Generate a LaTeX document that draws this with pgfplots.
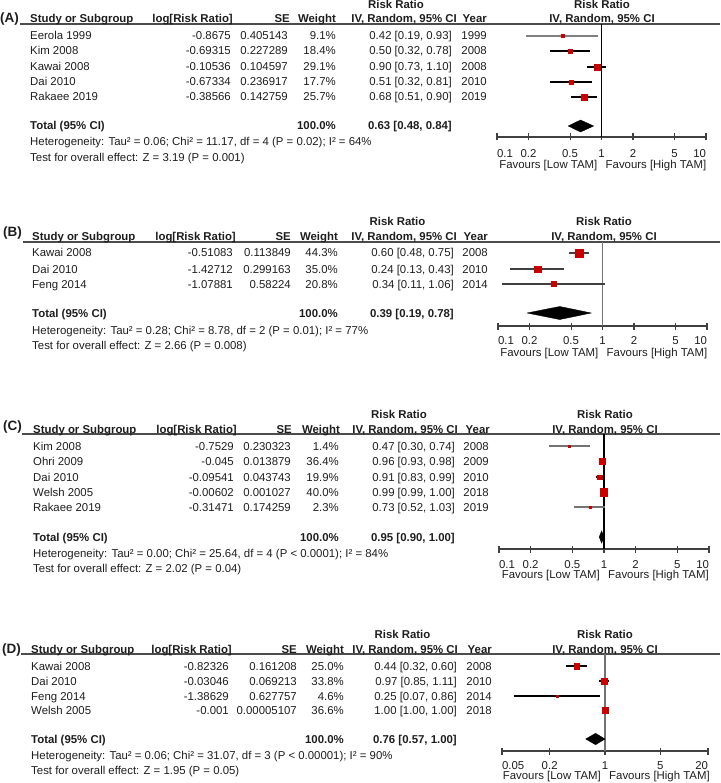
\documentclass[border=0pt]{standalone}
\usepackage{fontspec}
\setmainfont{Liberation Sans}
\usepackage{pgfplots}
\pgfplotsset{compat=1.18}
\definecolor{sqred}{RGB}{200,0,0}
\definecolor{txtc}{RGB}{30,30,30}
\newcommand\fs{\fontsize{11.4}{13}\selectfont}
\newcommand\fl{\fontsize{13.5}{15}\selectfont\bfseries}

% column x positions of the table: name, log RR, SE, weight, CI, year
\newcommand\cols[6]{\def\xN{#1}\def\xL{#2}\def\xS{#3}\def\xW{#4}\def\xC{#5}\def\xY{#6}}
% one study row, #1 = centre of the row below the header line
\newcommand\trow[7]{%
  \node[txt,anchor=base west] at (\xN,-#1-4) {#2};
  \node[txt,anchor=base east] at (\xL,-#1-4) {#3};
  \node[txt,anchor=base east] at (\xS,-#1-4) {#4};
  \node[txt,anchor=base east] at (\xW,-#1-4) {#5};
  \node[txt,anchor=base east] at (\xC,-#1-4) {#6};
  \node[txt,anchor=base east] at (\xY,-#1-4) {#7};}

\pgfplotsset{
  fstyle/.style={
    scale only axis, clip=false,
    axis x line*=bottom, axis y line=none,
    x axis line style={-, black!75, line width=1.1pt},
    xminorticks=false,
    tick align=center, major tick length=7pt,
    tick style={black!75, line width=1.1pt},
    tick label style={font=\fs, text=txtc},
    xticklabel style={anchor=base, inner sep=0pt, yshift=-17pt},
  },
  ci/.style={line width=1.3pt, mark=square*, mark indices={2},
    mark options={solid, draw=sqred, fill=sqred, line width=0.2pt}},
}

\begin{document}
\begin{tikzpicture}[font=\fs,
  txt/.style={inner sep=0pt, text=txtc},
  hd/.style={txt, font=\fs\bfseries}]
\useasboundingbox (0pt,0pt) rectangle (720pt,-783pt);

% ---------------- (A) ----------------
\begin{scope}[x=1pt, y=1pt, shift={(0,-24)}]
\node[hd,font=\fl,anchor=base west] at (0,1.7) {(A)};
\draw[black!70, line width=1.3pt] (20,0) -- (720,0);
\node[hd,anchor=base west] at (30,1) {Study or Subgroup};
\node[hd,anchor=base east] at (233,1) {log[Risk Ratio]};
\node[hd,anchor=base east] at (290,1) {SE};
\node[hd,anchor=base east] at (336,1) {Weight};
\node[hd,anchor=base] at (396,15.5) {Risk Ratio};
\node[hd,anchor=base east] at (457,1) {IV, Random, 95\% CI};
\node[hd,anchor=base east] at (487,1) {Year};
\node[hd,anchor=base] at (602,15.5) {Risk Ratio};
\node[hd,anchor=base] at (602,1) {IV, Random, 95\% CI};
\cols{30}{231}{288}{336}{452}{487}
\trow{12}{Eerola 1999}{-0.8675}{0.405143}{9.1\%}{0.42 [0.19, 0.93]}{1999}
\trow{27}{Kim 2008}{-0.69315}{0.227289}{18.4\%}{0.50 [0.32, 0.78]}{2008}
\trow{43}{Kawai 2008}{-0.10536}{0.104597}{29.1\%}{0.90 [0.73, 1.10]}{2008}
\trow{58}{Dai 2010}{-0.67334}{0.236917}{17.7\%}{0.51 [0.32, 0.81]}{2010}
\trow{73}{Rakaee 2019}{-0.38566}{0.142759}{25.7\%}{0.68 [0.51, 0.90]}{2019}
\node[hd,anchor=base west] at (\xN,-106) {Total (95\% CI)};
\node[hd,anchor=base east] at (\xW,-106) {100.0\%};
\node[hd,anchor=base east] at (\xC,-106) {0.63 [0.48, 0.84]};
\node[txt,anchor=base west] at (\xN,-122) {Heterogeneity: Tau² = 0.06; Chi² = 11.17, df = 4 (P = 0.02); I² = 64\%};
\node[txt,anchor=base west] at (\xN,-138) {Test for overall effect: Z = 3.19 (P = 0.001)};
\end{scope}
\begin{axis}[xmode=log, fstyle, at={(497pt,-24pt)}, anchor=north west,
  width=209pt, height=113pt, xmin=0.1, xmax=10, ymin=-113, ymax=0,
  xtick={0.1,0.2,0.5,1,2,5,10},
  xticklabels={\rlap{0.1},0.2,0.5,1,2,5,\llap{10}}]
\addplot[black, line width=1.1pt] coordinates {(1,0) (1,-113)};
\addplot[ci, black!50, mark size=1.5] coordinates {(0.19,-12) (0.42,-12) (0.93,-12)};
\addplot[ci, black, mark size=2.35] coordinates {(0.32,-27) (0.50,-27) (0.78,-27)};
\addplot[ci, black, mark size=3] coordinates {(0.73,-43) (0.90,-43) (1.10,-43)};
\addplot[ci, black, mark size=2.35] coordinates {(0.32,-58) (0.51,-58) (0.81,-58)};
\addplot[ci, black, mark size=2.85] coordinates {(0.51,-73) (0.68,-73) (0.90,-73)};
\addplot[fill=black, draw=black] coordinates {(0.48,-102) (0.63,-96) (0.84,-102) (0.63,-108) (0.48,-102)};
\node[txt,anchor=base east,xshift=-4pt] at (axis cs:1,-145) {Favours [Low TAM]};
\node[txt,anchor=base west,xshift=4pt] at (axis cs:1,-145) {Favours [High TAM]};
\end{axis}

% ---------------- (B) ----------------
\begin{scope}[x=1pt, y=1pt, shift={(0,-242)}]
\node[hd,font=\fl,anchor=base west] at (3,5) {(B)};
\draw[black!70, line width=1.3pt] (23,0) -- (720,0);
\node[hd,anchor=base west] at (32,1) {Study or Subgroup};
\node[hd,anchor=base east] at (236,1) {log[Risk Ratio]};
\node[hd,anchor=base east] at (291,1) {SE};
\node[hd,anchor=base east] at (338,1) {Weight};
\node[hd,anchor=base] at (397.5,16) {Risk Ratio};
\node[hd,anchor=base east] at (457,1) {IV, Random, 95\% CI};
\node[hd,anchor=base east] at (488,1) {Year};
\node[hd,anchor=base] at (604,16) {Risk Ratio};
\node[hd,anchor=base] at (604,1) {IV, Random, 95\% CI};
\cols{32}{233}{291}{338}{454}{488}
\trow{11}{Kawai 2008}{-0.51083}{0.113849}{44.3\%}{0.60 [0.48, 0.75]}{2008}
\trow{27}{Dai 2010}{-1.42712}{0.299163}{35.0\%}{0.24 [0.13, 0.43]}{2010}
\trow{42}{Feng 2014}{-1.07881}{0.58224}{20.8\%}{0.34 [0.11, 1.06]}{2014}
\node[hd,anchor=base west] at (\xN,-75) {Total (95\% CI)};
\node[hd,anchor=base east] at (\xW,-75) {100.0\%};
\node[hd,anchor=base east] at (\xC,-75) {0.39 [0.19, 0.78]};
\node[txt,anchor=base west] at (\xN,-92) {Heterogeneity: Tau² = 0.28; Chi² = 8.78, df = 2 (P = 0.01); I² = 77\%};
\node[txt,anchor=base west] at (\xN,-107) {Test for overall effect: Z = 2.66 (P = 0.008)};
\end{scope}
\begin{axis}[xmode=log, fstyle, at={(498pt,-242pt)}, anchor=north west,
  width=209pt, height=84pt, xmin=0.1, xmax=10, ymin=-84, ymax=0,
  xtick={0.1,0.2,0.5,1,2,5,10},
  xticklabels={\rlap{0.1},0.2,0.5,1,2,5,\llap{10}},
  xticklabel style={yshift=2pt}]
\addplot[black!55, line width=1.1pt] coordinates {(1,0) (1,-84)};
\addplot[ci, black!75, mark size=3.85] coordinates {(0.48,-11) (0.60,-11) (0.75,-11)};
\addplot[ci, black!75, mark size=3.35] coordinates {(0.13,-27) (0.24,-27) (0.43,-27)};
\addplot[ci, black!75, mark size=2.5] coordinates {(0.11,-42) (0.34,-42) (1.06,-42)};
\addplot[fill=black, draw=black] coordinates {(0.19,-71) (0.39,-64.5) (0.78,-71) (0.39,-77.5) (0.19,-71)};
\node[txt,anchor=base east,xshift=-4pt] at (axis cs:1,-114) {Favours [Low TAM]};
\node[txt,anchor=base west,xshift=4pt] at (axis cs:1,-114) {Favours [High TAM]};
\end{axis}

% ---------------- (C) ----------------
\begin{scope}[x=1pt, y=1pt, shift={(0,-434)}]
\node[hd,font=\fl,anchor=base west] at (3,4) {(C)};
\draw[black!70, line width=1.3pt] (22,0) -- (720,0);
\node[hd,anchor=base west] at (33,1) {Study or Subgroup};
\node[hd,anchor=base east] at (237,1) {log[Risk Ratio]};
\node[hd,anchor=base east] at (292,1) {SE};
\node[hd,anchor=base east] at (340,1) {Weight};
\node[hd,anchor=base] at (399,16) {Risk Ratio};
\node[hd,anchor=base east] at (458,1) {IV, Random, 95\% CI};
\node[hd,anchor=base east] at (490,1) {Year};
\node[hd,anchor=base] at (605,16) {Risk Ratio};
\node[hd,anchor=base] at (605,1) {IV, Random, 95\% CI};
\cols{33}{234}{291}{339}{455}{489}
\trow{12}{Kim 2008}{-0.7529}{0.230323}{1.4\%}{0.47 [0.30, 0.74]}{2008}
\trow{27}{Ohri 2009}{-0.045}{0.013879}{36.4\%}{0.96 [0.93, 0.98]}{2009}
\trow{43}{Dai 2010}{-0.09541}{0.043743}{19.9\%}{0.91 [0.83, 0.99]}{2010}
\trow{58}{Welsh 2005}{-0.00602}{0.001027}{40.0\%}{0.99 [0.99, 1.00]}{2018}
\trow{73}{Rakaee 2019}{-0.31471}{0.174259}{2.3\%}{0.73 [0.52, 1.03]}{2019}
\node[hd,anchor=base west] at (\xN,-107) {Total (95\% CI)};
\node[hd,anchor=base east] at (\xW,-107) {100.0\%};
\node[hd,anchor=base east] at (\xC,-107) {0.95 [0.90, 1.00]};
\node[txt,anchor=base west] at (\xN,-123) {Heterogeneity: Tau² = 0.00; Chi² = 25.64, df = 4 (P < 0.0001); I² = 84\%};
\node[txt,anchor=base west] at (\xN,-138) {Test for overall effect: Z = 2.02 (P = 0.04)};
\end{scope}
\begin{axis}[xmode=log, fstyle, at={(499pt,-434pt)}, anchor=north west,
  width=210pt, height=115pt, xmin=0.1, xmax=10, ymin=-115, ymax=0,
  xtick={0.1,0.2,0.5,1,2,5,10},
  xticklabels={\rlap{0.1},0.2,0.5,1,2,5,\llap{10}},
  xticklabel style={yshift=1pt}]
\addplot[black, line width=1.1pt] coordinates {(1,0) (1,-115)};
\addplot[ci, black!55, mark size=1] coordinates {(0.30,-12) (0.47,-12) (0.74,-12)};
\addplot[ci, black, mark size=3.15] coordinates {(0.93,-27) (0.96,-27) (0.98,-27)};
\addplot[ci, black, mark size=2.3] coordinates {(0.83,-43) (0.91,-43) (0.99,-43)};
\addplot[ci, black, mark size=3.65] coordinates {(0.99,-58) (0.99,-58) (1.00,-58)};
\addplot[ci, black!55, mark size=1] coordinates {(0.52,-73) (0.73,-73) (1.03,-73)};
\addplot[fill=black, draw=black] coordinates {(0.90,-103) (0.95,-97) (1.00,-103) (0.95,-109) (0.90,-103)};
\node[txt,anchor=base east,xshift=-4pt] at (axis cs:1,-144) {Favours [Low TAM]};
\node[txt,anchor=base west,xshift=4pt] at (axis cs:1,-144) {Favours [High TAM]};
\end{axis}

% ---------------- (D) ----------------
\begin{scope}[x=1pt, y=1pt, shift={(0,-654)}]
\node[hd,font=\fl,anchor=base west] at (2,0.7) {(D)};
\draw[black!70, line width=1.3pt] (21,0) -- (720,0);
\node[hd,anchor=base west] at (31,1) {Study or Subgroup};
\node[hd,anchor=base east] at (232,1) {log[Risk Ratio]};
\node[hd,anchor=base east] at (297,1) {SE};
\node[hd,anchor=base east] at (344,1) {Weight};
\node[hd,anchor=base] at (402.5,16) {Risk Ratio};
\node[hd,anchor=base east] at (458,1) {IV, Random, 95\% CI};
\node[hd,anchor=base east] at (492,1) {Year};
\node[hd,anchor=base] at (605,16) {Risk Ratio};
\node[hd,anchor=base] at (605,1) {IV, Random, 95\% CI};
\cols{31}{229}{297}{344}{457}{492}
\trow{12}{Kawai 2008}{-0.82326}{0.161208}{25.0\%}{0.44 [0.32, 0.60]}{2008}
\trow{27}{Dai 2010}{-0.03046}{0.069213}{33.8\%}{0.97 [0.85, 1.11]}{2010}
\trow{42}{Feng 2014}{-1.38629}{0.627757}{4.6\%}{0.25 [0.07, 0.86]}{2014}
\trow{56}{Welsh 2005}{-0.001}{0.00005107}{36.6\%}{1.00 [1.00, 1.00]}{2018}
\node[hd,anchor=base west] at (\xN,-89) {Total (95\% CI)};
\node[hd,anchor=base east] at (\xW,-89) {100.0\%};
\node[hd,anchor=base east] at (\xC,-89) {0.76 [0.57, 1.00]};
\node[txt,anchor=base west] at (\xN,-105) {Heterogeneity: Tau² = 0.06; Chi² = 31.07, df = 3 (P < 0.00001); I² = 90\%};
\node[txt,anchor=base west] at (\xN,-120) {Test for overall effect: Z = 1.95 (P = 0.05)};
\end{scope}
\begin{axis}[xmode=log, fstyle, at={(502pt,-654pt)}, anchor=north west,
  width=206pt, height=97pt, xmin=0.05, xmax=20, ymin=-97, ymax=0,
  xtick={0.05,0.2,1,5,20},
  xticklabels={\rlap{0.05},0.2,1,5,\llap{20}},
  xticklabel style={yshift=2pt}]
\addplot[black!55, line width=1.1pt] coordinates {(1,0) (1,-97)};
\addplot[ci, black, mark size=2.65] coordinates {(0.32,-12) (0.44,-12) (0.60,-12)};
\addplot[ci, black, mark size=3.15] coordinates {(0.85,-27) (0.97,-27) (1.11,-27)};
\addplot[ci, black, mark size=1] coordinates {(0.07,-42) (0.25,-42) (0.86,-42)};
\addplot[ci, black, mark size=3.35] coordinates {(1.00,-56) (1.00,-56) (1.00,-56)};
\addplot[fill=black, draw=black] coordinates {(0.57,-85) (0.76,-79.3) (1.00,-85) (0.76,-90.7) (0.57,-85)};
\node[txt,anchor=base east,xshift=-4pt] at (axis cs:1,-125.5) {Favours [Low TAM]};
\node[txt,anchor=base west,xshift=4pt] at (axis cs:1,-125.5) {Favours [High TAM]};
\end{axis}
\end{tikzpicture}
\end{document}
